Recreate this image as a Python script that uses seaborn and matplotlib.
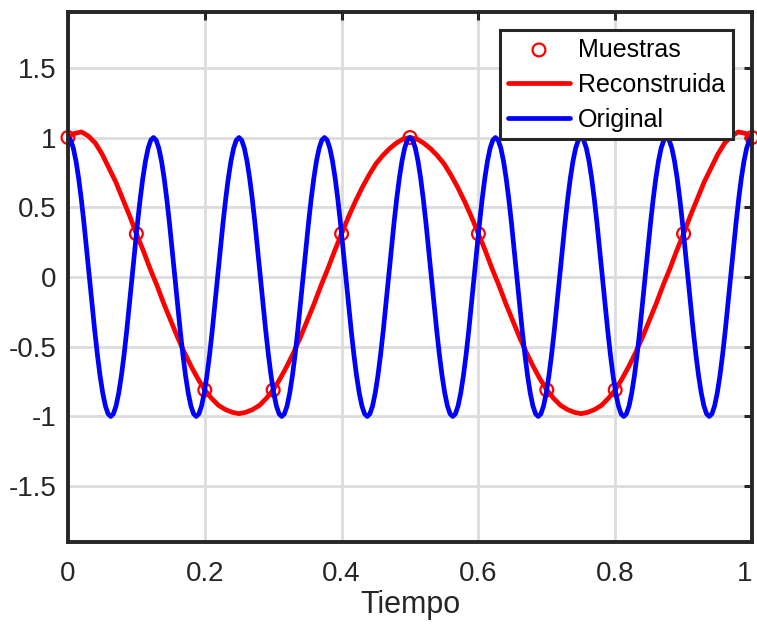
import numpy as np
import pandas as pd
import matplotlib
matplotlib.use("Agg")
import matplotlib.pyplot as plt
import seaborn as sns

# sampled points (every 0.1 s)
sample_t = [0.0, 0.1, 0.2, 0.3, 0.4, 0.5, 0.6, 0.7, 0.8, 0.9, 1.0]
sample_y = [1.0, 0.31, -0.81, -0.81, 0.31, 1.0, 0.31, -0.81, -0.81, 0.31, 1.0]

# reconstructed signal, read every 0.01 s
recon_y = [
    1.00, 1.03, 1.04, 1.01, 0.96, 0.88, 0.78, 0.68, 0.56, 0.44,
    0.31, 0.19, 0.06, -0.06, -0.19, -0.31, -0.43, -0.54, -0.64, -0.73,
    -0.81, -0.87, -0.92, -0.95, -0.97, -0.98, -0.97, -0.95, -0.92, -0.87,
    -0.81, -0.73, -0.64, -0.54, -0.43, -0.31, -0.19, -0.06, 0.06, 0.19,
    0.31, 0.43, 0.54, 0.64, 0.73, 0.81, 0.87, 0.92, 0.96, 0.99,
    1.00, 0.99, 0.96, 0.92, 0.87, 0.81, 0.73, 0.64, 0.54, 0.43,
    0.31, 0.19, 0.06, -0.06, -0.19, -0.31, -0.43, -0.54, -0.64, -0.73,
    -0.81, -0.87, -0.92, -0.95, -0.97, -0.98, -0.97, -0.95, -0.92, -0.87,
    -0.81, -0.73, -0.64, -0.54, -0.43, -0.31, -0.19, -0.06, 0.06, 0.19,
    0.31, 0.44, 0.56, 0.68, 0.78, 0.88, 0.96, 1.01, 1.04, 1.03,
    1.00,
]

# original signal, read every 1/256 s
orig_y = [
    1, 0.981, 0.924, 0.831, 0.707, 0.556, 0.383, 0.195, 0, -0.195, -0.383, -0.556, -0.707, -0.831, -0.924, -0.981,
    -1, -0.981, -0.924, -0.831, -0.707, -0.556, -0.383, -0.195, 0, 0.195, 0.383, 0.556, 0.707, 0.831, 0.924, 0.981,
    1, 0.981, 0.924, 0.831, 0.707, 0.556, 0.383, 0.195, 0, -0.195, -0.383, -0.556, -0.707, -0.831, -0.924, -0.981,
    -1, -0.981, -0.924, -0.831, -0.707, -0.556, -0.383, -0.195, 0, 0.195, 0.383, 0.556, 0.707, 0.831, 0.924, 0.981,
    1, 0.981, 0.924, 0.831, 0.707, 0.556, 0.383, 0.195, 0, -0.195, -0.383, -0.556, -0.707, -0.831, -0.924, -0.981,
    -1, -0.981, -0.924, -0.831, -0.707, -0.556, -0.383, -0.195, 0, 0.195, 0.383, 0.556, 0.707, 0.831, 0.924, 0.981,
    1, 0.981, 0.924, 0.831, 0.707, 0.556, 0.383, 0.195, 0, -0.195, -0.383, -0.556, -0.707, -0.831, -0.924, -0.981,
    -1, -0.981, -0.924, -0.831, -0.707, -0.556, -0.383, -0.195, 0, 0.195, 0.383, 0.556, 0.707, 0.831, 0.924, 0.981,
    1, 0.981, 0.924, 0.831, 0.707, 0.556, 0.383, 0.195, 0, -0.195, -0.383, -0.556, -0.707, -0.831, -0.924, -0.981,
    -1, -0.981, -0.924, -0.831, -0.707, -0.556, -0.383, -0.195, 0, 0.195, 0.383, 0.556, 0.707, 0.831, 0.924, 0.981,
    1, 0.981, 0.924, 0.831, 0.707, 0.556, 0.383, 0.195, 0, -0.195, -0.383, -0.556, -0.707, -0.831, -0.924, -0.981,
    -1, -0.981, -0.924, -0.831, -0.707, -0.556, -0.383, -0.195, 0, 0.195, 0.383, 0.556, 0.707, 0.831, 0.924, 0.981,
    1, 0.981, 0.924, 0.831, 0.707, 0.556, 0.383, 0.195, 0, -0.195, -0.383, -0.556, -0.707, -0.831, -0.924, -0.981,
    -1, -0.981, -0.924, -0.831, -0.707, -0.556, -0.383, -0.195, 0, 0.195, 0.383, 0.556, 0.707, 0.831, 0.924, 0.981,
    1, 0.981, 0.924, 0.831, 0.707, 0.556, 0.383, 0.195, 0, -0.195, -0.383, -0.556, -0.707, -0.831, -0.924, -0.981,
    -1, -0.981, -0.924, -0.831, -0.707, -0.556, -0.383, -0.195, 0, 0.195, 0.383, 0.556, 0.707, 0.831, 0.924, 0.981,
    1,
]

recon_t = np.linspace(0, 1, len(recon_y))
orig_t = np.linspace(0, 1, len(orig_y))

sns.set_style("white")
plt.rcParams['font.family'] = ['Liberation Sans', 'DejaVu Sans']

fig = plt.figure(figsize=(7.57, 6.24), dpi=100)
ax = fig.add_axes([0.0898, 0.1314, 0.9036, 0.8494])

sns.scatterplot(x=sample_t, y=sample_y, ax=ax, marker='o', s=85,
                facecolors='none', edgecolor='red', linewidth=1.6,
                label='Muestras', clip_on=False, zorder=2)
sns.lineplot(x=recon_t, y=recon_y, ax=ax, color='red', linewidth=3.4,
             sort=False, label='Reconstruida', zorder=3)
sns.lineplot(x=orig_t, y=orig_y, ax=ax, color='blue', linewidth=3.4,
             sort=False, label='Original', zorder=4)

ax.set_xlim(0, 1)
ax.set_ylim(-1.9, 1.9)
ax.set_xticks([0, 0.2, 0.4, 0.6, 0.8, 1])
ax.set_xticklabels(['0', '0.2', '0.4', '0.6', '0.8', '1'])
ax.set_yticks([-1.5, -1, -0.5, 0, 0.5, 1, 1.5])
ax.set_yticklabels(['-1.5', '-1', '-0.5', '0', '0.5', '1', '1.5'])
ax.grid(True, color='#dcdcdc', linewidth=2)
ax.set_axisbelow(True)
ax.tick_params(direction='in', length=6, width=2.2, colors='#262626',
               labelsize=20, top=True, right=True)
ax.tick_params(axis='x', pad=14)
ax.tick_params(axis='y', pad=8)
# keep the last x label inside the canvas
ax.get_xticklabels()[-1].set_horizontalalignment('right')
ax.get_xticklabels()[-1].set_x(1.0)
for sp in ax.spines.values():
    sp.set_linewidth(2.8)
    sp.set_color('#262626')
    sp.set_zorder(5)
ax.set_xlabel('Tiempo', fontsize=22, color='#262626', labelpad=2)
ax.set_ylabel('')

leg = ax.legend(loc='upper right', bbox_to_anchor=(0.972, 0.966),
                fontsize=18, frameon=True, fancybox=False, handlelength=2.5,
                borderpad=0.3, labelspacing=0.44, handletextpad=0.32,
                borderaxespad=0)
leg.get_frame().set_edgecolor('#262626')
leg.get_frame().set_linewidth(2.2)
leg.get_frame().set_alpha(1)
for txt in leg.get_texts():
    txt.set_color('black')

fig.savefig('out.png', dpi=100)
